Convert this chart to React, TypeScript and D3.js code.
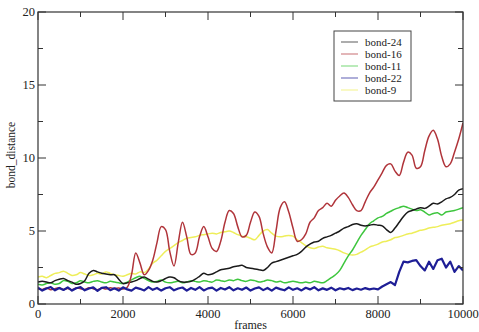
import React from "react";
import * as d3 from "d3";

// Frames sampled every 100 steps, 0..10000
const frames: number[] = d3.range(0, 10001, 100);

const bond24: number[] = [
  1.5, 1.55, 1.5, 1.45, 1.6, 1.7, 1.75, 1.6, 1.5, 1.35,
  1.4, 1.6, 2.1, 2.3, 2.2, 2.1, 2.05, 2.0, 2.0, 1.7,
  1.4, 1.45, 1.5, 1.6, 1.75, 1.85, 1.7, 1.55, 1.5, 1.6,
  1.75, 1.85, 1.8, 1.6, 1.5, 1.5, 1.55, 1.7, 1.9, 2.1,
  2.0, 2.05, 2.2, 2.35, 2.4, 2.45, 2.55, 2.6, 2.65, 2.5,
  2.45, 2.4, 2.35, 2.3, 2.5, 2.8, 2.9, 3.0, 3.1, 3.2,
  3.3, 3.4, 3.6, 3.9, 4.1, 4.25, 4.3, 4.5, 4.6, 4.7,
  4.85, 5.0, 5.2, 5.3, 5.45, 5.5, 5.4, 5.35, 5.4, 5.45,
  5.4, 5.35, 5.1, 4.9, 5.2, 5.6, 6.0, 6.3, 6.4, 6.5,
  6.6, 6.55, 6.7, 6.9, 6.85, 7.0, 7.2, 7.3, 7.5, 7.8,
  7.9,
];

const bond16: number[] = [
  1.05, 1.0, 1.1, 0.98, 1.05, 1.12, 1.0, 1.06, 0.98, 1.1,
  1.05, 1.0, 1.12, 1.05, 0.98, 1.1, 1.02, 1.12, 1.05, 1.1,
  1.02, 1.15, 2.0, 3.5, 2.8, 2.0, 2.3, 3.0, 4.2, 5.3,
  5.1, 3.6, 2.6, 4.2, 5.6, 4.6, 3.4, 3.5, 4.6, 5.3,
  4.6, 3.8, 3.6, 4.3, 5.6, 6.4, 6.2, 5.3, 4.6, 4.7,
  5.6, 6.3, 6.0, 4.8, 3.9, 3.5, 5.0, 6.6, 7.0, 6.3,
  5.2, 4.3, 4.4, 4.8, 5.6, 5.9, 6.4, 6.6, 6.9, 6.7,
  7.1, 7.4, 7.6, 7.3, 6.8, 6.4, 6.4, 7.0, 7.6, 8.0,
  8.5, 9.0, 9.5, 9.6, 9.1, 8.8, 9.7, 10.4, 10.2, 9.3,
  9.4, 10.5, 11.5, 11.9, 11.3, 10.1, 9.4, 9.6, 10.4, 11.3,
  12.4,
];

const bond11: number[] = [
  1.35, 1.3, 1.4, 1.45, 1.35, 1.4, 1.6, 1.55, 1.4, 1.45,
  1.6, 1.5, 1.45, 1.55, 1.6, 1.5, 1.45, 1.55, 1.5, 1.45,
  1.4, 1.5, 1.65, 1.8, 1.9, 1.75, 1.6, 1.5, 1.55, 1.65,
  1.5, 1.45, 1.5, 1.55, 1.45, 1.5, 1.6, 1.55, 1.5, 1.6,
  1.55, 1.5, 1.65, 1.6, 1.55, 1.65, 1.6, 1.7, 1.6, 1.55,
  1.65, 1.6, 1.5, 1.55, 1.65, 1.6, 1.5, 1.55, 1.45, 1.5,
  1.55, 1.5, 1.45, 1.5, 1.45, 1.55, 1.5, 1.45, 1.6, 1.8,
  2.0, 2.3, 2.8, 3.3, 3.7, 4.2, 4.7, 5.1, 5.5, 5.7,
  5.9, 6.0, 6.2, 6.35, 6.5, 6.6, 6.7, 6.6, 6.5, 6.4,
  6.45, 6.3, 6.1, 6.2, 6.25, 6.1, 6.3, 6.35, 6.4, 6.5,
  6.6,
];

const bond22: number[] = [
  1.12, 0.92, 1.06, 1.16, 0.94, 1.1, 0.96, 1.14, 0.92, 1.08,
  1.16, 0.94, 1.06, 1.14, 0.9, 1.1, 1.15, 0.95, 1.08, 0.92,
  1.14, 1.0, 0.92, 1.12, 1.04, 0.93, 1.16, 0.97, 1.1, 0.92,
  1.08, 1.15, 0.94, 1.06, 1.13, 0.92, 1.1, 0.97, 1.16, 0.93,
  1.07, 1.12, 0.92, 1.1, 0.99, 1.15, 0.94, 1.08, 0.97, 1.13,
  0.92, 1.06, 1.14, 0.95, 1.1, 0.92, 1.12, 1.02, 0.94, 1.14,
  0.97, 1.08, 0.93, 1.11, 1.0, 1.15, 0.94, 1.07, 0.97, 1.12,
  0.94, 1.08, 1.0, 1.1, 0.95, 1.06, 0.98, 1.09, 1.0, 1.06,
  1.0, 1.2, 1.35, 1.5, 1.3, 2.2, 2.9, 2.85, 2.95, 3.0,
  2.6, 2.3, 2.9, 2.4, 3.0, 3.1, 2.5, 2.9, 2.2, 2.6,
  2.3,
];

const bond9: number[] = [
  1.85, 1.9, 1.8, 1.95, 2.1, 2.15, 2.25, 2.1, 1.95, 2.0,
  2.15, 2.05, 1.95, 2.0, 2.1, 2.05, 2.2, 2.1, 2.0, 1.95,
  1.9, 2.0, 2.1, 2.05, 2.2, 2.15, 2.4, 2.8, 3.0, 3.3,
  3.6, 3.8, 4.0, 4.2, 4.35, 4.5, 4.55, 4.6, 4.7, 4.75,
  4.8, 4.85, 4.8, 4.9, 4.95, 5.0, 4.9, 4.75, 4.65, 4.6,
  4.5, 4.4, 4.7, 5.0, 5.1, 4.85, 4.65, 4.6, 4.65, 4.7,
  4.65, 4.4, 4.2, 4.0, 3.85, 3.8, 3.9, 3.95, 3.85, 3.8,
  3.75, 3.65, 3.5, 3.4, 3.35, 3.4, 3.55, 3.7, 3.9, 4.0,
  4.1, 4.25, 4.3, 4.4, 4.55, 4.6, 4.7, 4.8, 4.85, 4.95,
  5.05, 5.1, 5.2, 5.25, 5.3, 5.4, 5.45, 5.5, 5.6, 5.7,
  5.75,
];

const seriesNames: string[] = ["bond-24", "bond-16", "bond-11", "bond-22", "bond-9"];
const seriesValues: number[][] = [bond24, bond16, bond11, bond22, bond9];
const seriesColors: string[] = ["#1a1a1a", "#b0343a", "#3ec63e", "#1e1e96", "#eeee5a"];
// draw order: yellow and green underneath, then black, red, blue on top
const drawOrder: number[] = [4, 2, 0, 1, 3];

const xMajorTicks: number[] = [0, 2000, 4000, 6000, 8000, 10000];
const xMinorTicks: number[] = [1000, 3000, 5000, 7000, 9000];
const yMajorTicks: number[] = [0, 5, 10, 15, 20];
const yMinorTicks: number[] = [2.5, 7.5, 12.5, 17.5];

const W = 479;
const H = 332;
const plot = { left: 38, right: 463, top: 12, bottom: 304 };
const FONT = "Liberation Serif, Times New Roman, DejaVu Serif, serif";

export default function App() {
  const x = d3.scaleLinear().domain([0, 10000]).range([plot.left, plot.right]);
  const y = d3.scaleLinear().domain([0, 20]).range([plot.bottom, plot.top]);

  const smooth = d3
    .line<[number, number]>()
    .x((d) => x(d[0]))
    .y((d) => y(d[1]))
    .curve(d3.curveCatmullRom.alpha(0.5));
  const jagged = d3
    .line<[number, number]>()
    .x((d) => x(d[0]))
    .y((d) => y(d[1]));

  const majorLen = 8;
  const minorLen = 5;

  const legend = { x: 334, y: 31, w: 77, h: 70 };

  return (
    <svg
      width={W}
      height={H}
      style={{ position: "absolute", left: 0, top: 0, background: "#fff" }}
    >
      <rect x={0} y={0} width={W} height={H} fill="#fff" />
      <defs>
        <clipPath id="plotClip">
          <rect
            x={plot.left}
            y={plot.top}
            width={plot.right - plot.left}
            height={plot.bottom - plot.top}
          />
        </clipPath>
      </defs>

      {/* data lines */}
      <g clipPath="url(#plotClip)">
        {drawOrder.map((i) => {
          const pts = frames.map((f, k) => [f, seriesValues[i][k]] as [number, number]);
          const gen = i === 3 ? jagged : smooth;
          return (
            <path
              key={seriesNames[i]}
              d={gen(pts) || ""}
              fill="none"
              stroke={seriesColors[i]}
              strokeWidth={i === 3 ? 2.2 : 1.5}
              strokeLinejoin="round"
            />
          );
        })}
      </g>

      {/* frame */}
      <rect
        x={plot.left}
        y={plot.top}
        width={plot.right - plot.left}
        height={plot.bottom - plot.top}
        fill="none"
        stroke="#333"
        strokeWidth={1.2}
      />

      {/* ticks on all four sides, pointing inward */}
      <g stroke="#333" strokeWidth={1}>
        {xMajorTicks.map((t) => (
          <g key={"xM" + t}>
            <line x1={x(t)} x2={x(t)} y1={plot.bottom} y2={plot.bottom - majorLen} />
            <line x1={x(t)} x2={x(t)} y1={plot.top} y2={plot.top + majorLen} />
          </g>
        ))}
        {xMinorTicks.map((t) => (
          <g key={"xm" + t}>
            <line x1={x(t)} x2={x(t)} y1={plot.bottom} y2={plot.bottom - minorLen} />
            <line x1={x(t)} x2={x(t)} y1={plot.top} y2={plot.top + minorLen} />
          </g>
        ))}
        {yMajorTicks.map((t) => (
          <g key={"yM" + t}>
            <line x1={plot.left} x2={plot.left + majorLen} y1={y(t)} y2={y(t)} />
            <line x1={plot.right} x2={plot.right - majorLen} y1={y(t)} y2={y(t)} />
          </g>
        ))}
        {yMinorTicks.map((t) => (
          <g key={"ym" + t}>
            <line x1={plot.left} x2={plot.left + minorLen} y1={y(t)} y2={y(t)} />
            <line x1={plot.right} x2={plot.right - minorLen} y1={y(t)} y2={y(t)} />
          </g>
        ))}
      </g>

      {/* tick labels */}
      {xMajorTicks.map((t) => (
        <text
          key={"xl" + t}
          x={x(t)}
          y={plot.bottom + 14}
          textAnchor="middle"
          fontSize={12.5}
          fill="#222"
          fontFamily={FONT}
        >
          {t}
        </text>
      ))}
      {yMajorTicks.map((t) => (
        <text
          key={"yl" + t}
          x={plot.left - 3}
          y={y(t) + 4}
          textAnchor="end"
          fontSize={12.5}
          fill="#222"
          fontFamily={FONT}
        >
          {t}
        </text>
      ))}

      {/* axis titles */}
      <text
        x={(plot.left + plot.right) / 2}
        y={329}
        textAnchor="middle"
        fontSize={12}
        fill="#222"
        fontFamily={FONT}
      >
        frames
      </text>
      <text
        transform={`translate(15, ${(plot.top + plot.bottom) / 2 - 3}) rotate(-90)`}
        textAnchor="middle"
        fontSize={11.5}
        fill="#222"
        fontFamily={FONT}
      >
        bond_distance
      </text>

      {/* legend */}
      <g>
        <rect
          x={legend.x}
          y={legend.y}
          width={legend.w}
          height={legend.h}
          fill="#fff"
          stroke="#444"
          strokeWidth={1}
        />
        {seriesNames.map((name, i) => {
          const ly = legend.y + 11 + i * 12;
          return (
            <g key={"lg" + name}>
              <line
                x1={legend.x + 7}
                x2={legend.x + 24}
                y1={ly}
                y2={ly}
                stroke={seriesColors[i]}
                strokeOpacity={0.6}
                strokeWidth={1.2}
              />
              <text
                x={legend.x + 31}
                y={ly + 4}
                fontSize={11}
                fill="#222"
                fontFamily={FONT}
              >
                {name}
              </text>
            </g>
          );
        })}
      </g>
    </svg>
  );
}
